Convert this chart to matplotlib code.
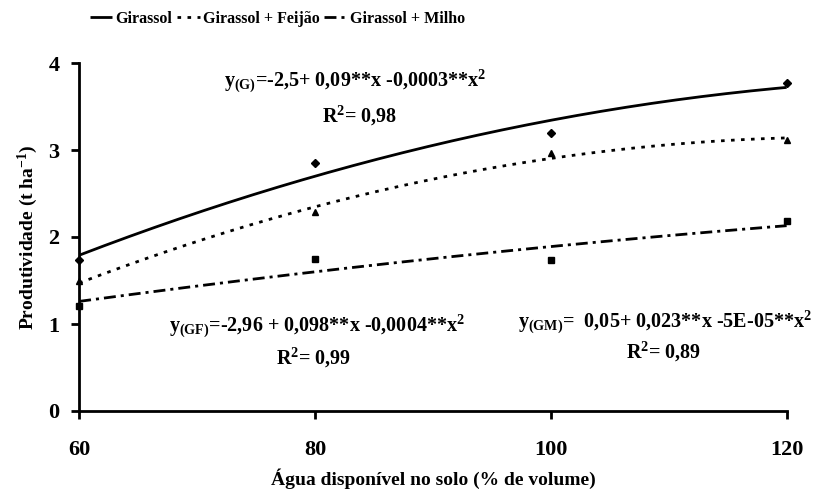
import numpy as np
import matplotlib
matplotlib.use('Agg')
from matplotlib import pyplot as plt

# dados
agua = [60, 80, 100, 120]
girassol = [1.74, 2.85, 3.19, 3.77]
girassol_feijao = [1.49, 2.29, 2.96, 3.12]
girassol_milho = [1.21, 1.75, 1.74, 2.18]

x_ticks = [60, 80, 100, 120]
y_ticks = [0, 1, 2, 3, 4]

plt.rcParams['font.family'] = ['Liberation Serif', 'DejaVu Serif']
plt.rcParams['font.weight'] = 'bold'
plt.rcParams['mathtext.fontset'] = 'custom'
plt.rcParams['mathtext.rm'] = 'Liberation Serif:bold'
plt.rcParams['mathtext.it'] = 'Liberation Serif:bold'
plt.rcParams['mathtext.bf'] = 'Liberation Serif:bold'

fig = plt.figure(figsize=(8.16, 5), dpi=100)
ax = fig.add_axes([0.097, 0.178, 0.867, 0.696])

xx = np.linspace(60, 120, 200)

# curvas ajustadas (regressão quadrática)
estilos = [
    (girassol, 'D', 4, '-', 'Girassol'),
    (girassol_feijao, '^', 5, (0, (1.3, 2.3)), 'Girassol + Feijão'),
    (girassol_milho, 's', 5, (0, (4.3, 1.8, 1.1, 1.8)), 'Girassol + Milho'),
]
handles = []
for dados, marca, ms, ls, nome in estilos:
    coef = np.polyfit(agua, dados, 2)
    ax.plot(agua, dados, linestyle='none', marker=marca, markersize=ms,
            color='black', clip_on=False, zorder=3)
    h, = ax.plot(xx, np.polyval(coef, xx), color='black', linewidth=2,
                 linestyle=ls, label=nome, solid_capstyle='butt')
    handles.append(h)

ax.set_xlim(60, 120)
ax.set_ylim(0, 4)
ax.set_xticks(x_ticks)
ax.set_yticks(y_ticks)
ax.spines['top'].set_visible(False)
ax.spines['right'].set_visible(False)
ax.spines['left'].set_linewidth(2)
ax.spines['bottom'].set_linewidth(2)
ax.tick_params(direction='out', length=6, width=2, labelsize=16)
ax.tick_params(axis='y', pad=8)
ax.tick_params(axis='x', pad=15)

ax.set_xlabel('Água disponível no solo (% de volume)', size=14, weight='bold', labelpad=6)
ax.set_ylabel('Produtividade (t ha$^{-1}$)', size=14, weight='bold', labelpad=6)

# equações
fs = 14.5
ax.text(83.4, 3.79, 'y$_{(G)}$=-2,5+ 0,09**x -0,0003**x$^2$', ha='center', va='center', fontsize=fs)
ax.text(83.8, 3.39, 'R$^2$= 0,98', ha='center', va='center', fontsize=fs)
ax.text(80.2, 0.97, 'y$_{(GF)}$=-2,96 + 0,098**x -0,0004**x$^2$', ha='center', va='center', fontsize=fs)
ax.text(79.9, 0.61, 'R$^2$= 0,99', ha='center', va='center', fontsize=fs)
ax.text(109.7, 1.02, 'y$_{(GM)}$=  0,05+ 0,023**x -5E-05**x$^2$', ha='center', va='center', fontsize=fs)
ax.text(109.6, 0.68, 'R$^2$= 0,89', ha='center', va='center', fontsize=fs)

fig.legend(handles=handles, loc='center', bbox_to_anchor=(0.34, 0.962), ncol=3,
           frameon=False, fontsize=11.5, handlelength=1.4, handletextpad=0.2,
           columnspacing=0.3)

plt.savefig('out.png', dpi=100)
